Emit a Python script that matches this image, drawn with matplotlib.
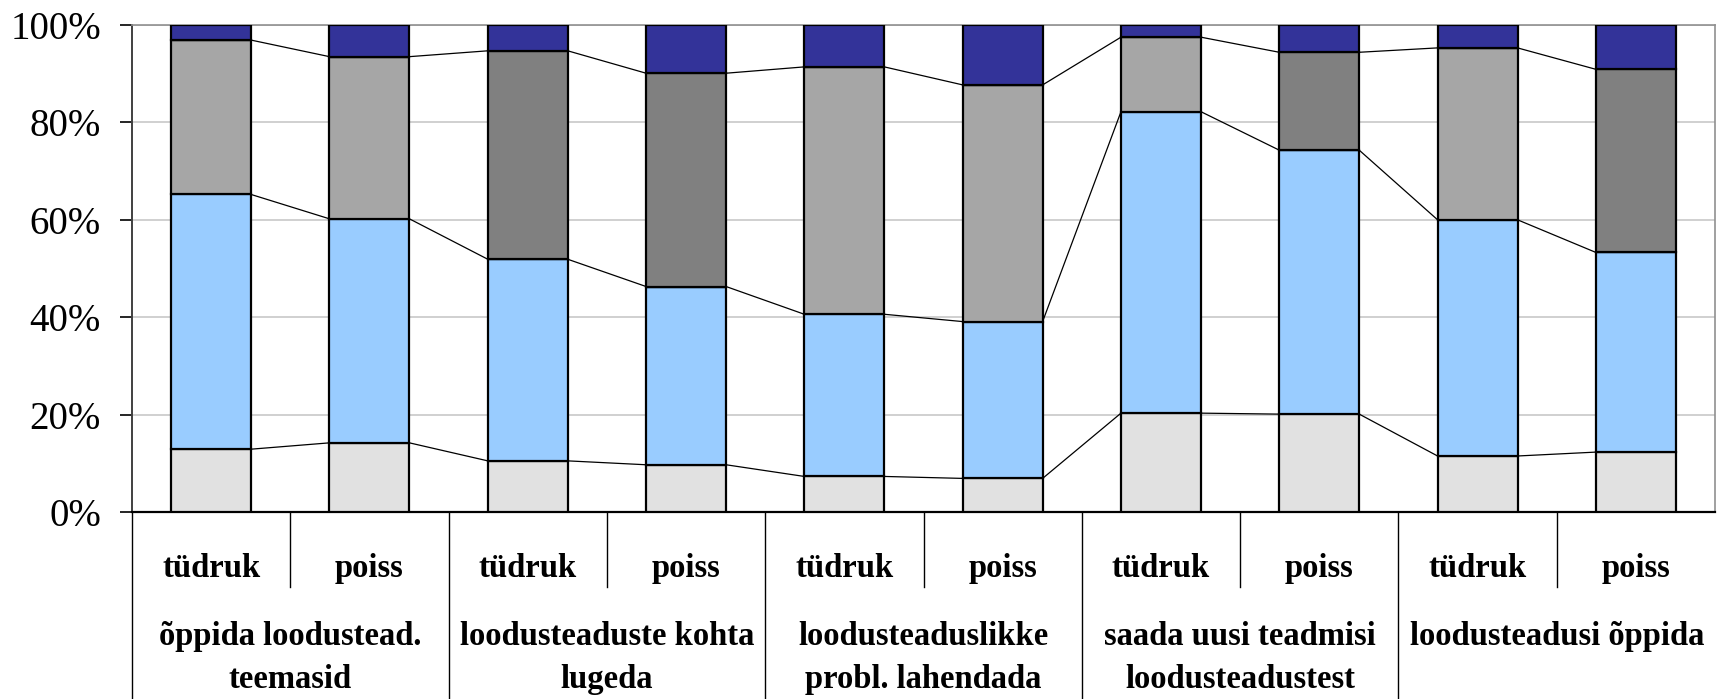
import matplotlib
matplotlib.use('Agg')
import matplotlib.pyplot as plt
from matplotlib.lines import Line2D
import numpy as np

plt.rcParams['font.family'] = ['Liberation Serif', 'DejaVu Serif']

# groups of questions (two bars each: girl / boy)
groups = ['õppida loodustead.\nteemasid',
          'loodusteaduste kohta\nlugeda',
          'loodusteaduslikke\nprobl. lahendada',
          'saada uusi teadmisi\nloodusteadustest',
          'loodusteadusi õppida']
genders = ['tüdruk', 'poiss']

# shares in % per bar, from bottom to top
s_bottom = [12.9, 14.2, 10.5, 9.7, 7.3, 6.9, 20.3, 20.1, 11.5, 12.3]
s_blue = [52.3, 46.0, 41.4, 36.6, 33.3, 32.2, 61.9, 54.2, 48.5, 41.0]
s_light = [31.7, 33.3, 0.0, 0.0, 50.8, 48.6, 15.3, 0.0, 35.3, 0.0]
s_dark = [0.0, 0.0, 42.8, 43.8, 0.0, 0.0, 0.0, 20.1, 0.0, 37.6]
s_top = [3.1, 6.5, 5.3, 9.9, 8.6, 12.3, 2.5, 5.6, 4.7, 9.1]

fig = plt.figure(figsize=(17.25, 6.99), dpi=100)
ax = fig.add_axes([132/1725, 187/699, (1715-132)/1725, 487/699])

x = np.arange(len(s_bottom))
w = 0.505
series = [(s_bottom, '#E1E1E1'), (s_blue, '#99CCFF'), (s_light, '#A6A6A6'),
          (s_dark, '#808080'), (s_top, '#333399')]
base = np.zeros(len(x))
tops = []
for vals, col in series:
    vals = np.array(vals)
    ax.bar(x, vals, w, bottom=base, color=col, edgecolor='black', linewidth=1.6, zorder=3)
    base = base + vals
    tops.append(base.copy())

# series lines between neighbouring bars (gray parts counted as one)
for k in [0, 1, 3]:
    t = tops[k]
    for i in range(len(x) - 1):
        ax.plot([x[i] + w/2, x[i+1] - w/2], [t[i], t[i+1]], color='black', lw=0.9, zorder=2)

ax.set_xlim(-0.5, len(x) - 0.5)
ax.set_ylim(0, 100)
ax.set_yticks([0, 20, 40, 60, 80, 100])
ax.set_yticklabels(['0%', '20%', '40%', '60%', '80%', '100%'])
ax.tick_params(axis='y', direction='out', length=8.3, width=1.2, pad=14, labelsize=28)
ax.set_xticks([])
ax.yaxis.grid(True, color='#D0D0D0', lw=1.4, zorder=0)
ax.set_axisbelow(True)
for sp in ['top', 'right']:
    ax.spines[sp].set_color('#909090')
    ax.spines[sp].set_linewidth(1.2)
ax.spines['left'].set_color('#404040')
ax.spines['left'].set_linewidth(1.4)
ax.spines['bottom'].set_color('black')
ax.spines['bottom'].set_linewidth(1.6)

# category labels under the axis
trans = ax.get_xaxis_transform()
for i in range(len(x)):
    ax.text(x[i], -0.115, genders[i % 2], transform=trans, ha='center', va='center',
            fontsize=23.5, fontweight='bold')
for g, name in enumerate(groups):
    for j, line in enumerate(name.split('\n')):
        ax.text(2*g + 0.5, -0.255 - 0.088*j, line, transform=trans, ha='center', va='center',
                fontsize=23.5, fontweight='bold')

# separators: short ones between bars, long ones between groups
for i in range(len(x)):
    xe = i - 0.5
    if i % 2 == 0:
        y0 = -0.4
    else:
        y0 = -0.154
    ax.add_line(Line2D([xe, xe], [0, y0], transform=trans, color='black', lw=1.0, clip_on=False))

fig.savefig('out.png', dpi=100)
